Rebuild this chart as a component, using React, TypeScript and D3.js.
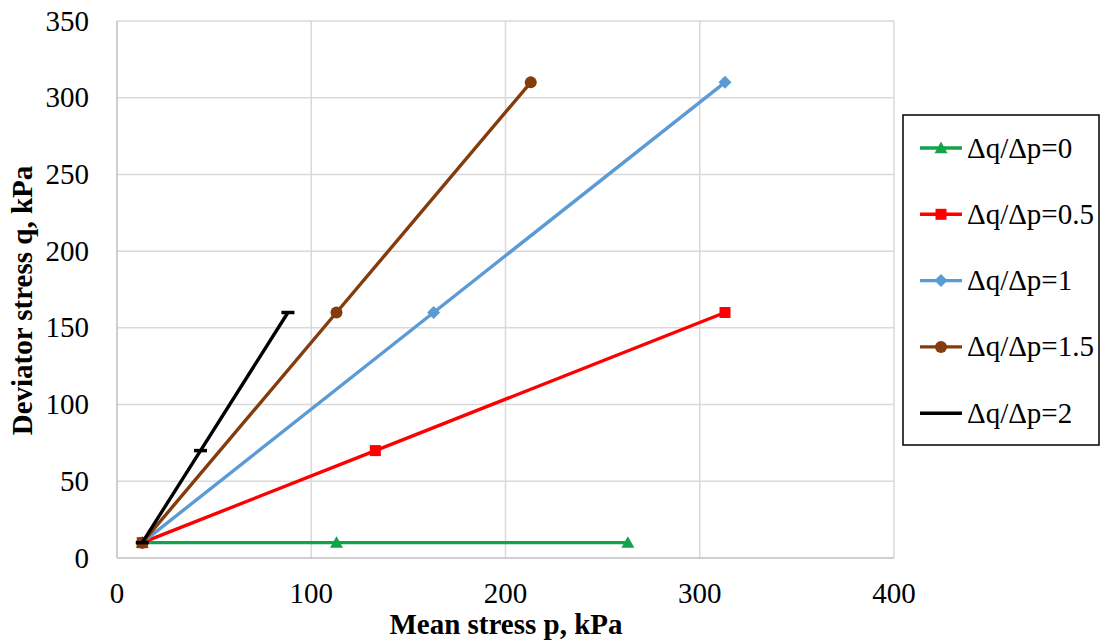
import React from "react";
import * as d3 from "d3";

const xTicks = [0, 100, 200, 300, 400];
const yTicks = [0, 50, 100, 150, 200, 250, 300, 350];

const seriesNames = ["Δq/Δp=0", "Δq/Δp=0.5", "Δq/Δp=1", "Δq/Δp=1.5", "Δq/Δp=2"];
const seriesColors = ["#13a44b", "#ff0000", "#5b9bd5", "#843c0c", "#000000"];
const seriesMarkers = ["triangle", "square", "diamond", "circle", "dash"];

const pGreen = [13, 113, 263];
const qGreen = [10, 10, 10];
const pRed = [13, 133, 313];
const qRed = [10, 70, 160];
const pBlue = [13, 163, 313];
const qBlue = [10, 160, 310];
const pBrown = [13, 113, 213];
const qBrown = [10, 160, 310];
const pBlack = [13, 43, 88];
const qBlack = [10, 70, 160];

const seriesP = [pGreen, pRed, pBlue, pBrown, pBlack];
const seriesQ = [qGreen, qRed, qBlue, qBrown, qBlack];

const FONT = "'Liberation Serif', 'Times New Roman', serif";

function Marker({ type, x, y, color }: { type: string; x: number; y: number; color: string }) {
  if (type === "triangle") {
    const s = 6.5;
    return <path d={`M${x},${y - s} L${x + s},${y + s * 0.8} L${x - s},${y + s * 0.8} Z`} fill={color} />;
  }
  if (type === "square") {
    return <rect x={x - 5.5} y={y - 5.5} width={11} height={11} fill={color} />;
  }
  if (type === "diamond") {
    const s = 6.5;
    return <path d={`M${x},${y - s} L${x + s},${y} L${x},${y + s} L${x - s},${y} Z`} fill={color} />;
  }
  if (type === "circle") {
    return <circle cx={x} cy={y} r={6} fill={color} />;
  }
  return <line x1={x - 6.5} x2={x + 6.5} y1={y} y2={y} stroke={color} strokeWidth={3.5} />;
}

export default function App() {
  const left = 117, right = 894, top = 21, bottom = 558;
  const x = d3.scaleLinear().domain([0, 400]).range([left, right]);
  const y = d3.scaleLinear().domain([0, 350]).range([bottom, top]);
  const line = d3.line<[number, number]>().x((d) => x(d[0])).y((d) => y(d[1]));

  const legendX = 903, legendY = 115, legendW = 196, legendH = 330;
  const legendRowY = (i: number) => 148 + i * 66.3;

  return (
    <svg width={1100} height={640} style={{ position: "absolute", left: 0, top: 0, background: "#fff" }}>
      <rect x={0} y={0} width={1100} height={640} fill="#fff" />
      {xTicks.slice(1).map((t) => (
        <line key={"gx" + t} x1={x(t)} x2={x(t)} y1={top} y2={bottom} stroke="#d9d9d9" strokeWidth={1.5} />
      ))}
      {yTicks.slice(1).map((t) => (
        <line key={"gy" + t} x1={left} x2={right} y1={y(t)} y2={y(t)} stroke="#d9d9d9" strokeWidth={1.5} />
      ))}
      <line x1={left} x2={left} y1={top} y2={bottom} stroke="#bfbfbf" strokeWidth={1.5} />
      <line x1={left} x2={right} y1={bottom} y2={bottom} stroke="#bfbfbf" strokeWidth={1.5} />
      {yTicks.map((t) => (
        <text key={"ty" + t} x={89} y={y(t)} dy="0.33em" textAnchor="end" fontFamily={FONT} fontSize={29} fill="#000">
          {t}
        </text>
      ))}
      {xTicks.map((t) => (
        <text key={"tx" + t} x={x(t)} y={593} dy="0.33em" textAnchor="middle" fontFamily={FONT} fontSize={29} fill="#000">
          {t}
        </text>
      ))}
      <text x={506} y={624} dy="0.33em" textAnchor="middle" fontFamily={FONT} fontSize={29} fontWeight="bold" fill="#000">
        Mean stress p, kPa
      </text>
      <text
        transform={`translate(22, ${(top + bottom) / 2 + 11}) rotate(-90)`}
        dy="0.33em"
        textAnchor="middle"
        fontFamily={FONT}
        fontSize={29}
        fontWeight="bold"
        fill="#000"
      >
        Deviator stress q, kPa
      </text>
      {seriesP.map((ps, i) => {
        const pts: [number, number][] = ps.map((p, j) => [p, seriesQ[i][j]]);
        return (
          <g key={"s" + i}>
            <path d={line(pts) || ""} fill="none" stroke={seriesColors[i]} strokeWidth={3.4} />
            {pts.map((pt, j) => (
              <Marker key={j} type={seriesMarkers[i]} x={x(pt[0])} y={y(pt[1])} color={seriesColors[i]} />
            ))}
          </g>
        );
      })}
      <rect x={legendX} y={legendY} width={legendW} height={legendH} fill="#fff" stroke="#000" strokeWidth={1.5} />
      {seriesNames.map((name, i) => {
        const ly = legendRowY(i);
        return (
          <g key={"l" + i}>
            <line x1={920} x2={962} y1={ly} y2={ly} stroke={seriesColors[i]} strokeWidth={3.4} />
            {seriesMarkers[i] !== "dash" && <Marker type={seriesMarkers[i]} x={941} y={ly} color={seriesColors[i]} />}
            <text x={967} y={ly} dy="0.33em" fontFamily={FONT} fontSize={29} fill="#000">
              {name}
            </text>
          </g>
        );
      })}
    </svg>
  );
}
